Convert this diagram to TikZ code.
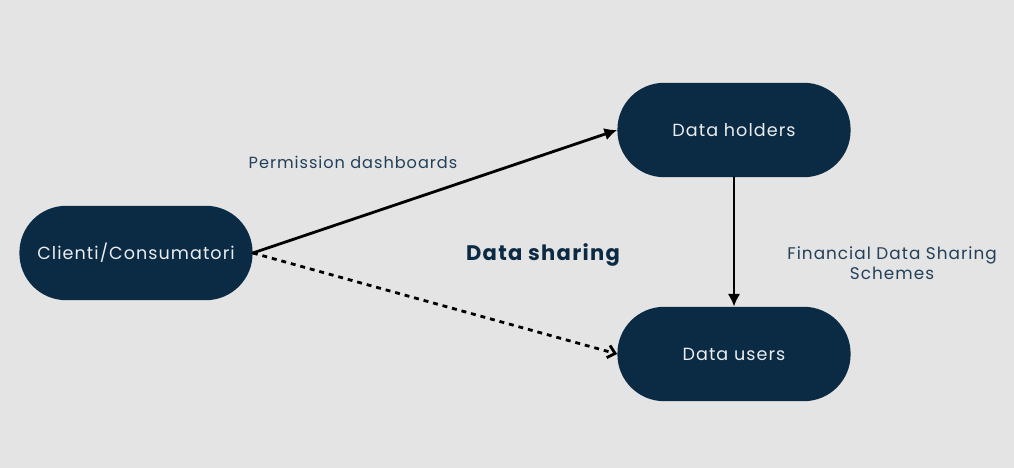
\documentclass[tikz,border=0pt]{standalone}
\usepackage{fontspec}
\setmainfont{Poppins}[LetterSpace=6]
\usetikzlibrary{arrows.meta, calc}
\definecolor{navy}{HTML}{0B2A44}
\definecolor{labelblue}{HTML}{23405A}
\definecolor{paper}{HTML}{E4E4E4}

\begin{document}
\begin{tikzpicture}[>=Latex, line cap=round, line join=round,
	actor/.style={fill=navy, text=white!92!navy, rectangle, rounded corners=1.17cm,
		minimum width=5.83cm, minimum height=2.36cm, font=\fontsize{12.5}{15}\selectfont},
	caption/.style={text=labelblue, font=\fontsize{11.5}{14}\selectfont, align=center},
	flow/.style={line width=2pt, -{Latex[length=9pt,width=9pt]}}]
	
	%========================
	% canvas
	%========================
	\fill[paper] (0,0) rectangle (25.35,11.7);
	\useasboundingbox (0,0) rectangle (25.35,11.7);
	
	%========================
	% actors
	%========================
	\node[actor] (clienti) at (3.4,5.375) {Clienti/Consumatori};
	\node[actor] (holders) at (18.35,8.45) {Data holders};
	\node[actor] (users) at (18.35,2.85) {Data users};
	
	% labels
	\node[caption] (perm) at (8.825,7.63) {Permission dashboards};
	\node[caption, text=navy, font=\bfseries\fontsize{15}{18}\selectfont] (sharing) at (13.575,5.33) {Data sharing};
	\node[caption, font=\fontsize{12}{14.5}\selectfont] (schemes) at (22.3,5.12) {Financial Data Sharing\\Schemes};
	
	%========================
	% flows
	%========================
	\draw[flow] (clienti.east) -- (holders.west);
	\draw[line width=2pt, dash pattern=on 3.5pt off 3.5pt, line cap=butt,
		-{Straight Barb[length=5pt,width=9pt,line cap=butt]}] (clienti.east) -- (users.west);
	\draw[flow] (holders.south) -- (users.north);
	
\end{tikzpicture}
\end{document}
